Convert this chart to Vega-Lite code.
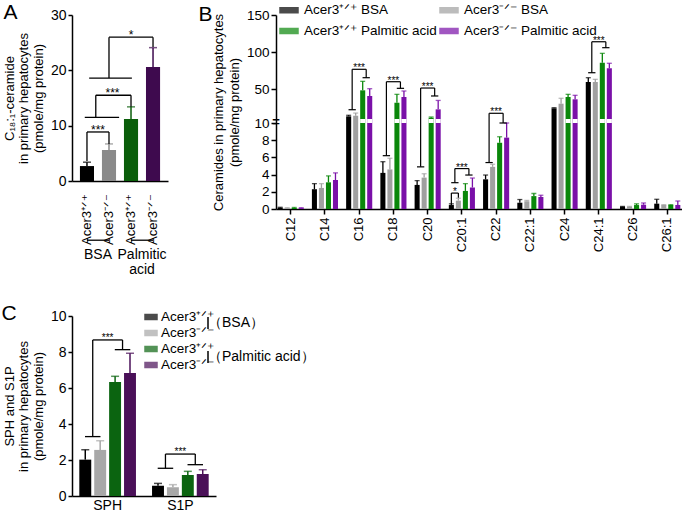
{
"$schema":"https://vega.github.io/schema/vega-lite/v6.json",
"background":"white",
"padding":{"left":1,"top":0,"right":0,"bottom":0},
"config":{
  "font":"Liberation Sans",
  "view":{"stroke":null},
  "axis":{"domainColor":"#000","domainWidth":1.5,"tickColor":"#000","tickWidth":1.5,"tickSize":4,"labelColor":"#000","titleColor":"#000","titleFontWeight":"normal","grid":false,"labelFlush":false,"labelOverlap":false,"labelFont":"Liberation Sans","titleFont":"Liberation Sans","labelPadding":2},
  "legend":{"labelFont":"Liberation Sans","labelColor":"#000"},
  "title":{"font":"Liberation Sans","fontWeight":"normal","fontSize":21,"color":"#000"}
},
"columns":2,
"align":"each",
"bounds":"flush",
"spacing":{"row":107,"column":60},
"resolve":{"scale":{"color":"independent","shape":"independent","x":"independent","y":"independent","xOffset":"independent"},"legend":{"color":"independent","shape":"independent"}},
"concat":[
   {
    "width":96,"height":166,
    "title":{"text":"A","anchor":"start","frame":"bounds","dy":19,"dx":0},
    "layer":[
     {
      "data":{"values":[
        {"treat":"BSA","geno":"+/+","ga":"Acer3+/+ BSA","v":2.7,"hi":3.4,"lab":"Acer3⁺ᐟ⁺"},
        {"treat":"BSA","geno":"-/-","ga":"Acer3-/- BSA","v":5.6,"hi":6.7,"lab":"Acer3⁻ᐟ⁻"},
        {"treat":"Palmitic acid","geno":"+/+","ga":"Acer3+/+ Palmitic acid","v":11.2,"hi":13.4,"lab":"Acer3⁺ᐟ⁺"},
        {"treat":"Palmitic acid","geno":"-/-","ga":"Acer3-/- Palmitic acid","v":20.6,"hi":24.1,"lab":"Acer3⁻ᐟ⁻"}
      ]},
      "layer":[
       {
        "mark":{"type":"bar"},
        "encoding":{
         "x":{"field":"treat","type":"nominal","scale":{"domain":["BSA","Palmitic acid"],"paddingInner":0,"paddingOuter":0.09},
              "axis":{"title":null,"ticks":false,"labelAngle":0,"labelPadding":66,"labelBaseline":"top","labelFontSize":14,"labelLineHeight":15,"labelExpr":"datum.value == 'BSA' ? 'BSA' : ['Palmitic','acid']"}},
         "xOffset":{"field":"geno","type":"nominal","scale":{"domain":["+/+","-/-"],"paddingInner":0.36,"paddingOuter":0.18}},
         "y":{"field":"v","type":"quantitative","scale":{"domain":[0,30],"nice":false,"zero":true},
              "axis":{"values":[0,10,20,30],"tickCount":40,"format":"d","labelOverlap":false,"labelFontSize":14,"titleFontSize":13,"titleLineHeight":14.5,"titlePadding":5,"title":["C₁₈:₁-ceramide","in primary hepatocytes","(pmole/mg protein)"]}},
         "color":{"field":"ga","type":"nominal","scale":{"domain":["Acer3+/+ BSA","Acer3-/- BSA","Acer3+/+ Palmitic acid","Acer3-/- Palmitic acid"],"range":["#000000","#8a8a8a","#0a5e0a","#3e0a4e"]},"legend":null}
        }
       },
       {
        "mark":{"type":"rule","strokeWidth":1.5},
        "encoding":{
         "x":{"field":"treat","type":"nominal"},
         "xOffset":{"field":"geno","type":"nominal"},
         "y":{"field":"v","type":"quantitative"},
         "y2":{"field":"hi"},
         "color":{"field":"ga","type":"nominal","legend":null}
        }
       },
       {
        "mark":{"type":"tick","orient":"horizontal","size":8,"thickness":1.5},
        "encoding":{
         "x":{"field":"treat","type":"nominal"},
         "xOffset":{"field":"geno","type":"nominal"},
         "y":{"field":"hi","type":"quantitative"},
         "color":{"field":"ga","type":"nominal","legend":null}
        }
       },
       {
        "mark":{"type":"text","angle":270,"align":"right","baseline":"middle","dx":-13,"fontSize":13,"color":"#000"},
        "encoding":{
         "x":{"field":"treat","type":"nominal"},
         "xOffset":{"field":"geno","type":"nominal"},
         "y":{"datum":0},
         "text":{"field":"lab"}
        }
       }
      ]
     },
     {
      "data":{"values":[{"treat":"BSA","y":-10.7},{"treat":"Palmitic acid","y":-10.7}]},
      "mark":{"type":"rule","strokeWidth":1.3,"color":"#000"},
      "encoding":{"x":{"field":"treat","type":"nominal","bandPosition":0.25},"x2":{"field":"treat","bandPosition":0.75},"y":{"field":"y","type":"quantitative"}}
     },
     {
      "data":{"values":[
        {"treat":"BSA","geno":"+/+","lo":3.6,"top":8.86},
        {"treat":"BSA","geno":"-/-","lo":6.7,"top":8.86},
        {"treat":"Palmitic acid","geno":"+/+","lo":13.4,"top":15.5},
        {"treat":"BSA","geno":"-/-","lo":18.6,"top":26.0},
        {"treat":"Palmitic acid","geno":"-/-","lo":24.2,"top":26.0}
      ]},
      "mark":{"type":"rule","strokeWidth":1.3,"color":"#000"},
      "encoding":{"x":{"field":"treat","type":"nominal"},"xOffset":{"field":"geno","type":"nominal"},"y":{"field":"lo","type":"quantitative"},"y2":{"field":"top"}}
     },
     {
      "data":{"values":[{"treat":"BSA","lo":11.5,"top":15.5}]},
      "mark":{"type":"rule","strokeWidth":1.3,"color":"#000"},
      "encoding":{"x":{"field":"treat","type":"nominal","bandPosition":0.45},"y":{"field":"lo","type":"quantitative"},"y2":{"field":"top"}}
     },
     {
      "data":{"values":[{"xa":"BSA","xb":"BSA","y":8.86}]},
      "mark":{"type":"rule","strokeWidth":1.3,"color":"#000"},
      "encoding":{"x":{"field":"xa","type":"nominal","bandPosition":0.25},"x2":{"field":"xb","bandPosition":0.75},"y":{"field":"y","type":"quantitative"}}
     },
     {
      "data":{"values":[{"xa":"BSA","xb":"BSA","y":11.5}]},
      "mark":{"type":"rule","strokeWidth":1.3,"color":"#000"},
      "encoding":{"x":{"field":"xa","type":"nominal","bandPosition":0.2},"x2":{"field":"xb","bandPosition":0.98},"y":{"field":"y","type":"quantitative"}}
     },
     {
      "data":{"values":[{"xa":"BSA","xb":"Palmitic acid","y":15.5}]},
      "mark":{"type":"rule","strokeWidth":1.3,"color":"#000"},
      "encoding":{"x":{"field":"xa","type":"nominal","bandPosition":0.45},"x2":{"field":"xb","bandPosition":0.25},"y":{"field":"y","type":"quantitative"}}
     },
     {
      "data":{"values":[{"xa":"BSA","xb":"Palmitic acid","y":18.6}]},
      "mark":{"type":"rule","strokeWidth":1.3,"color":"#000"},
      "encoding":{"x":{"field":"xa","type":"nominal","bandPosition":0.3},"x2":{"field":"xb","bandPosition":0.27},"y":{"field":"y","type":"quantitative"}}
     },
     {
      "data":{"values":[{"xa":"BSA","xb":"Palmitic acid","y":26.0}]},
      "mark":{"type":"rule","strokeWidth":1.3,"color":"#000"},
      "encoding":{"x":{"field":"xa","type":"nominal","bandPosition":0.75},"x2":{"field":"xb","bandPosition":0.75},"y":{"field":"y","type":"quantitative"}}
     },
     {
      "data":{"values":[{"xa":"BSA","y":8.86,"s":"***"}]},
      "mark":{"type":"text","fontSize":12,"baseline":"alphabetic","dy":2,"color":"#000"},
      "encoding":{"x":{"field":"xa","type":"nominal","bandPosition":0.5},"y":{"field":"y","type":"quantitative"},"text":{"field":"s"}}
     },
     {
      "data":{"values":[{"xa":"BSA","y":15.5,"s":"***"}]},
      "mark":{"type":"text","fontSize":12,"baseline":"alphabetic","dy":2,"color":"#000"},
      "encoding":{"x":{"field":"xa","type":"nominal","bandPosition":0.83},"y":{"field":"y","type":"quantitative"},"text":{"field":"s"}}
     },
     {
      "data":{"values":[{"xa":"Palmitic acid","y":26.0,"s":"*"}]},
      "mark":{"type":"text","fontSize":12,"baseline":"alphabetic","dy":2,"color":"#000"},
      "encoding":{"x":{"field":"xa","type":"nominal","bandPosition":0.25},"y":{"field":"y","type":"quantitative"},"text":{"field":"s"}}
     }
    ]
   },
   {
    "width":406,"height":194,
    "title":{"text":"B","anchor":"start","frame":"bounds","dy":29,"dx":-14},
    "layer":[
     {
      "data":{"values":[
        {"cer":"C12","gb":"Acer3⁺ᐟ⁺ BSA","treat":"BSA","v":0.15,"hi":0.2},
        {"cer":"C12","gb":"Acer3⁻ᐟ⁻ BSA","treat":"BSA","v":0.1,"hi":0.15},
        {"cer":"C12","gb":"Acer3⁺ᐟ⁺ Palmitic acid","treat":"PA","v":0.12,"hi":0.18},
        {"cer":"C12","gb":"Acer3⁻ᐟ⁻ Palmitic acid","treat":"PA","v":0.1,"hi":0.15},
        {"cer":"C14","gb":"Acer3⁺ᐟ⁺ BSA","treat":"BSA","v":2.3,"hi":2.95},
        {"cer":"C14","gb":"Acer3⁻ᐟ⁻ BSA","treat":"BSA","v":2.45,"hi":2.95},
        {"cer":"C14","gb":"Acer3⁺ᐟ⁺ Palmitic acid","treat":"PA","v":3.1,"hi":3.85},
        {"cer":"C14","gb":"Acer3⁻ᐟ⁻ Palmitic acid","treat":"PA","v":3.37,"hi":4.2},
        {"cer":"C16","gb":"Acer3⁺ᐟ⁺ BSA","treat":"BSA","v":13.6,"hi":15},
        {"cer":"C16","gb":"Acer3⁻ᐟ⁻ BSA","treat":"BSA","v":14.4,"hi":18},
        {"cer":"C16","gb":"Acer3⁺ᐟ⁺ Palmitic acid","treat":"PA","v":48.6,"hi":60.7},
        {"cer":"C16","gb":"Acer3⁻ᐟ⁻ Palmitic acid","treat":"PA","v":41,"hi":50.8},
        {"cer":"C18","gb":"Acer3⁺ᐟ⁺ BSA","treat":"BSA","v":4.2,"hi":5.5},
        {"cer":"C18","gb":"Acer3⁻ᐟ⁻ BSA","treat":"BSA","v":4.6,"hi":5.9},
        {"cer":"C18","gb":"Acer3⁺ᐟ⁺ Palmitic acid","treat":"PA","v":31.9,"hi":43.2},
        {"cer":"C18","gb":"Acer3⁻ᐟ⁻ Palmitic acid","treat":"PA","v":39.6,"hi":47.7},
        {"cer":"C20","gb":"Acer3⁺ᐟ⁺ BSA","treat":"BSA","v":2.8,"hi":3.3},
        {"cer":"C20","gb":"Acer3⁻ᐟ⁻ BSA","treat":"BSA","v":3.65,"hi":4.1},
        {"cer":"C20","gb":"Acer3⁺ᐟ⁺ Palmitic acid","treat":"PA","v":11.7,"hi":12.7},
        {"cer":"C20","gb":"Acer3⁻ᐟ⁻ Palmitic acid","treat":"PA","v":23,"hi":35},
        {"cer":"C20:1","gb":"Acer3⁺ᐟ⁺ BSA","treat":"BSA","v":0.46,"hi":0.6},
        {"cer":"C20:1","gb":"Acer3⁻ᐟ⁻ BSA","treat":"BSA","v":0.97,"hi":1.25},
        {"cer":"C20:1","gb":"Acer3⁺ᐟ⁺ Palmitic acid","treat":"PA","v":2.1,"hi":2.95},
        {"cer":"C20:1","gb":"Acer3⁻ᐟ⁻ Palmitic acid","treat":"PA","v":2.5,"hi":3.6},
        {"cer":"C22","gb":"Acer3⁺ᐟ⁺ BSA","treat":"BSA","v":3.45,"hi":3.95},
        {"cer":"C22","gb":"Acer3⁻ᐟ⁻ BSA","treat":"BSA","v":4.9,"hi":5.2},
        {"cer":"C22","gb":"Acer3⁺ᐟ⁺ Palmitic acid","treat":"PA","v":7.7,"hi":8.4},
        {"cer":"C22","gb":"Acer3⁻ᐟ⁻ Palmitic acid","treat":"PA","v":8.3,"hi":10.0},
        {"cer":"C22:1","gb":"Acer3⁺ᐟ⁺ BSA","treat":"BSA","v":0.73,"hi":1.1},
        {"cer":"C22:1","gb":"Acer3⁻ᐟ⁻ BSA","treat":"BSA","v":0.9,"hi":1.0},
        {"cer":"C22:1","gb":"Acer3⁺ᐟ⁺ Palmitic acid","treat":"PA","v":1.5,"hi":1.8},
        {"cer":"C22:1","gb":"Acer3⁻ᐟ⁻ Palmitic acid","treat":"PA","v":1.4,"hi":1.6},
        {"cer":"C24","gb":"Acer3⁺ᐟ⁺ BSA","treat":"BSA","v":24.4,"hi":25.2},
        {"cer":"C24","gb":"Acer3⁻ᐟ⁻ BSA","treat":"BSA","v":30.6,"hi":37.9},
        {"cer":"C24","gb":"Acer3⁺ᐟ⁺ Palmitic acid","treat":"PA","v":39.6,"hi":43.2},
        {"cer":"C24","gb":"Acer3⁻ᐟ⁻ Palmitic acid","treat":"PA","v":36.5,"hi":41.9},
        {"cer":"C24:1","gb":"Acer3⁺ᐟ⁺ BSA","treat":"BSA","v":59.8,"hi":65.6},
        {"cer":"C24:1","gb":"Acer3⁻ᐟ⁻ BSA","treat":"BSA","v":59.8,"hi":63.4},
        {"cer":"C24:1","gb":"Acer3⁺ᐟ⁺ Palmitic acid","treat":"PA","v":85.8,"hi":98.4},
        {"cer":"C24:1","gb":"Acer3⁻ᐟ⁻ Palmitic acid","treat":"PA","v":78.2,"hi":85},
        {"cer":"C26","gb":"Acer3⁺ᐟ⁺ BSA","treat":"BSA","v":0.27,"hi":0.3},
        {"cer":"C26","gb":"Acer3⁻ᐟ⁻ BSA","treat":"BSA","v":0.25,"hi":0.3},
        {"cer":"C26","gb":"Acer3⁺ᐟ⁺ Palmitic acid","treat":"PA","v":0.46,"hi":0.6},
        {"cer":"C26","gb":"Acer3⁻ᐟ⁻ Palmitic acid","treat":"PA","v":0.5,"hi":0.7},
        {"cer":"C26:1","gb":"Acer3⁺ᐟ⁺ BSA","treat":"BSA","v":0.62,"hi":1.13},
        {"cer":"C26:1","gb":"Acer3⁻ᐟ⁻ BSA","treat":"BSA","v":0.47,"hi":0.5},
        {"cer":"C26:1","gb":"Acer3⁺ᐟ⁺ Palmitic acid","treat":"PA","v":0.47,"hi":0.5},
        {"cer":"C26:1","gb":"Acer3⁻ᐟ⁻ Palmitic acid","treat":"PA","v":0.47,"hi":0.93}
      ]},
      "layer":[
       {
        "mark":{"type":"bar"},
        "encoding":{
         "x":{"field":"cer","type":"nominal","scale":{"domain":["C12","C14","C16","C18","C20","C20:1","C22","C22:1","C24","C24:1","C26","C26:1"],"paddingInner":0.18,"paddingOuter":0.02},
              "axis":{"title":null,"labelAngle":270,"labelFontSize":13,"tickSize":5,"labelPadding":3}},
         "xOffset":{"field":"gb","type":"nominal","scale":{"domain":["Acer3⁺ᐟ⁺ BSA","Acer3⁻ᐟ⁻ BSA","Acer3⁺ᐟ⁺ Palmitic acid","Acer3⁻ᐟ⁻ Palmitic acid"],"paddingInner":0.28,"paddingOuter":0.14}},
         "y":{"field":"v","type":"quantitative","scale":{"domain":[0,10,10.01,150],"range":[194,108,104,0],"nice":false,"zero":false},
              "axis":{"values":[0,2,4,6,8,10,50,100,150],"tickCount":40,"format":"d","labelOverlap":false,"labelFontSize":13.5,"tickSize":5,"title":["Ceramides in primary hepatocytes","(pmole/mg protein)"],"titleFontSize":13,"titleLineHeight":16,"titlePadding":5}},
         "color":{"field":"gb","type":"nominal","scale":{"domain":["Acer3⁺ᐟ⁺ BSA","Acer3⁻ᐟ⁻ BSA","Acer3⁺ᐟ⁺ Palmitic acid","Acer3⁻ᐟ⁻ Palmitic acid"],"range":["#000000","#a0a0a0","#0a870a","#7a10a8"]},
                  "legend":{"orient":"none","legendX":3,"legendY":-15,"direction":"horizontal","title":null,"columns":2,"symbolType":"M-1,-0.28H1V0.28H-1Z","symbolSize":324,"labelFontSize":13.5,"rowPadding":4,"columnPadding":0,"labelOffset":5,"padding":0}}
        }
       },
       {
        "transform":[{"filter":"datum.treat == 'PA' && datum.v > 10.01"}],
        "mark":{"type":"bar","color":"white"},
        "encoding":{
         "x":{"field":"cer","type":"nominal"},
         "xOffset":{"field":"gb","type":"nominal"},
         "y":{"datum":10},
         "y2":{"datum":10.01}
        }
       },
       {
        "mark":{"type":"rule","strokeWidth":1.3},
        "encoding":{
         "x":{"field":"cer","type":"nominal"},
         "xOffset":{"field":"gb","type":"nominal"},
         "y":{"field":"v","type":"quantitative"},
         "y2":{"field":"hi"},
         "color":{"field":"gb","type":"nominal"}
        }
       },
       {
        "mark":{"type":"tick","orient":"horizontal","size":5,"thickness":1.3},
        "encoding":{
         "x":{"field":"cer","type":"nominal"},
         "xOffset":{"field":"gb","type":"nominal"},
         "y":{"field":"hi","type":"quantitative"},
         "color":{"field":"gb","type":"nominal"}
        }
       }
      ]
     },
     {
      "data":{"values":[{"cer":"C12","brk":10.005,"s":"="}]},
      "mark":{"type":"text","fontSize":13,"fontWeight":"bold","align":"center","baseline":"middle","color":"#000","dy":1},
      "encoding":{"x":{"field":"cer","type":"nominal","bandPosition":-0.025},"y":{"field":"brk","type":"quantitative"},"text":{"field":"s"}}
     },
     {
      "data":{"values":[
        {"cer":"C16","l":22.5,"t":76.9,"r":65.6,"s":"***"},
        {"cer":"C18","l":6.2,"t":60.2,"r":51.3,"s":"***"},
        {"cer":"C20","l":4.9,"t":51.7,"r":41,"s":"***"},
        {"cer":"C20:1","l":3.06,"t":4.7,"r":3.95,"s":"***"},
        {"cer":"C22","l":5.4,"t":17.7,"r":10.0,"s":"***"},
        {"cer":"C24:1","l":72.3,"t":114,"r":106,"s":"***"}
      ]},
      "layer":[
       {"mark":{"type":"rule","strokeWidth":1.2,"color":"#000"},
        "encoding":{"x":{"field":"cer","type":"nominal","bandPosition":0.25},"y":{"field":"l","type":"quantitative"},"y2":{"field":"t"}}},
       {"mark":{"type":"rule","strokeWidth":1.2,"color":"#000"},
        "encoding":{"x":{"field":"cer","type":"nominal","bandPosition":0.75},"y":{"field":"r","type":"quantitative"},"y2":{"field":"t"}}},
       {"mark":{"type":"rule","strokeWidth":1.2,"color":"#000"},
        "encoding":{"x":{"field":"cer","type":"nominal","bandPosition":0.25},"x2":{"field":"cer","bandPosition":0.75},"y":{"field":"t","type":"quantitative"}}},
       {"mark":{"type":"rule","strokeWidth":1.2,"color":"#000"},
        "encoding":{"x":{"field":"cer","type":"nominal","bandPosition":0.12},"x2":{"field":"cer","bandPosition":0.38},"y":{"field":"l","type":"quantitative"}}},
       {"mark":{"type":"rule","strokeWidth":1.2,"color":"#000"},
        "encoding":{"x":{"field":"cer","type":"nominal","bandPosition":0.62},"x2":{"field":"cer","bandPosition":0.88},"y":{"field":"r","type":"quantitative"}}},
       {"mark":{"type":"text","fontSize":10,"baseline":"alphabetic","dy":2,"color":"#000"},
        "encoding":{"x":{"field":"cer","type":"nominal","bandPosition":0.5},"y":{"field":"t","type":"quantitative"},"text":{"field":"s"}}}
      ]
     },
     {
      "data":{"values":[{"cer":"C20:1","l":0.55,"t":1.85,"r":1.3,"s":"*"}]},
      "layer":[
       {"mark":{"type":"rule","strokeWidth":1.2,"color":"#000"},
        "encoding":{"x":{"field":"cer","type":"nominal","bandPosition":0.125},"y":{"field":"l","type":"quantitative"},"y2":{"field":"t"}}},
       {"mark":{"type":"rule","strokeWidth":1.2,"color":"#000"},
        "encoding":{"x":{"field":"cer","type":"nominal","bandPosition":0.375},"y":{"field":"r","type":"quantitative"},"y2":{"field":"t"}}},
       {"mark":{"type":"rule","strokeWidth":1.2,"color":"#000"},
        "encoding":{"x":{"field":"cer","type":"nominal","bandPosition":0.125},"x2":{"field":"cer","bandPosition":0.375},"y":{"field":"t","type":"quantitative"}}},
       {"mark":{"type":"text","fontSize":10,"baseline":"alphabetic","dy":2,"color":"#000"},
        "encoding":{"x":{"field":"cer","type":"nominal","bandPosition":0.25},"y":{"field":"t","type":"quantitative"},"text":{"field":"s"}}}
      ]
     }
    ]
   },
 {
  "width":144,"height":180,
  "title":{"text":"C","anchor":"start","frame":"bounds","dy":19,"dx":-2},
  "layer":[
   {
    "data":{"values":[
      {"sp":"SPH","gc":"Acer3⁺ᐟ⁺ BSA","v":2.02,"hi":2.57},
      {"sp":"SPH","gc":"Acer3⁻ᐟ⁻ BSA","v":2.56,"hi":3.07},
      {"sp":"SPH","gc":"Acer3⁺ᐟ⁺ Palmitic acid","v":6.33,"hi":6.65},
      {"sp":"SPH","gc":"Acer3⁻ᐟ⁻ Palmitic acid","v":6.83,"hi":7.93},
      {"sp":"S1P","gc":"Acer3⁺ᐟ⁺ BSA","v":0.57,"hi":0.7},
      {"sp":"S1P","gc":"Acer3⁻ᐟ⁻ BSA","v":0.48,"hi":0.63},
      {"sp":"S1P","gc":"Acer3⁺ᐟ⁺ Palmitic acid","v":1.17,"hi":1.37},
      {"sp":"S1P","gc":"Acer3⁻ᐟ⁻ Palmitic acid","v":1.22,"hi":1.46}
    ]},
    "layer":[
     {
      "mark":{"type":"bar"},
      "encoding":{
       "x":{"field":"sp","type":"nominal","scale":{"domain":["SPH","S1P"],"paddingInner":0.18,"paddingOuter":0.08},
            "axis":{"title":null,"labelAngle":0,"labelFontSize":14,"ticks":false,"labelPadding":2}},
       "xOffset":{"field":"gc","type":"nominal","scale":{"domain":["Acer3⁺ᐟ⁺ BSA","Acer3⁻ᐟ⁻ BSA","Acer3⁺ᐟ⁺ Palmitic acid","Acer3⁻ᐟ⁻ Palmitic acid"],"paddingInner":0.2,"paddingOuter":0.1}},
       "y":{"field":"v","type":"quantitative","scale":{"domain":[0,10],"nice":false},
            "axis":{"values":[0,2,4,6,8,10],"tickCount":40,"format":"d","labelOverlap":false,"labelFontSize":14,"titleFontSize":13,"titleLineHeight":14.5,"titlePadding":5,"title":["SPH and S1P","in primary hepatocytes","(pmole/mg protein)"]}},
       "color":{"field":"gc","type":"nominal","scale":{"domain":["Acer3⁺ᐟ⁺ BSA","Acer3⁻ᐟ⁻ BSA","Acer3⁺ᐟ⁺ Palmitic acid","Acer3⁻ᐟ⁻ Palmitic acid"],"range":["#000000","#a8a8a8","#0b6410","#4a1058"]},
                "legend":{"orient":"none","legendX":72,"legendY":-6,"title":null,"symbolType":"M-1,-0.4H1V0.4H-1Z","symbolSize":144,"labelFontSize":13.5,"labelExpr":"split(datum.label,' ')[0]","rowPadding":2,"labelOffset":3,"padding":0}}
      }
     },
     {
      "mark":{"type":"rule","strokeWidth":1.5},
      "encoding":{
       "x":{"field":"sp","type":"nominal"},
       "xOffset":{"field":"gc","type":"nominal"},
       "y":{"field":"v","type":"quantitative"},
       "y2":{"field":"hi"},
       "color":{"field":"gc","type":"nominal"}
      }
     },
     {
      "mark":{"type":"tick","orient":"horizontal","size":8,"thickness":1.5},
      "encoding":{
       "x":{"field":"sp","type":"nominal"},
       "xOffset":{"field":"gc","type":"nominal"},
       "y":{"field":"hi","type":"quantitative"},
       "color":{"field":"gc","type":"nominal"}
      }
     }
    ]
   },
   {
    "data":{"values":[{"tr":"BSA"},{"tr":"Palmitic acid"}]},
    "mark":{"type":"point","opacity":0,"filled":false,"color":"#000","strokeWidth":1.5},
    "encoding":{
     "shape":{"field":"tr","type":"nominal","scale":{"domain":["BSA","Palmitic acid"],"range":["M0,-1V1","M0,-1V1"]},
              "legend":{"orient":"none","legendX":129,"legendY":0,"title":null,"symbolSize":144,"symbolStrokeColor":"#000","symbolFillColor":"transparent","symbolStrokeWidth":1.5,"symbolOpacity":1,"labelFontSize":14,"labelExpr":"'（' + datum.label + '）'","rowPadding":16,"labelOffset":-7,"padding":0}}
    }
   },
   {
    "data":{"values":[
      {"sp":"SPH","l":3.3,"t":8.67,"r":8.13,"s":"***"},
      {"sp":"S1P","l":1.54,"t":2.33,"r":1.74,"s":"***"}
    ]},
    "layer":[
     {"mark":{"type":"rule","strokeWidth":1.3,"color":"#000"},
      "encoding":{"x":{"field":"sp","type":"nominal","bandPosition":0.25},"y":{"field":"l","type":"quantitative"},"y2":{"field":"t"}}},
     {"mark":{"type":"rule","strokeWidth":1.3,"color":"#000"},
      "encoding":{"x":{"field":"sp","type":"nominal","bandPosition":0.75},"y":{"field":"r","type":"quantitative"},"y2":{"field":"t"}}},
     {"mark":{"type":"rule","strokeWidth":1.3,"color":"#000"},
      "encoding":{"x":{"field":"sp","type":"nominal","bandPosition":0.25},"x2":{"field":"sp","bandPosition":0.75},"y":{"field":"t","type":"quantitative"}}},
     {"mark":{"type":"rule","strokeWidth":1.3,"color":"#000"},
      "encoding":{"x":{"field":"sp","type":"nominal","bandPosition":0.12},"x2":{"field":"sp","bandPosition":0.38},"y":{"field":"l","type":"quantitative"}}},
     {"mark":{"type":"rule","strokeWidth":1.3,"color":"#000"},
      "encoding":{"x":{"field":"sp","type":"nominal","bandPosition":0.62},"x2":{"field":"sp","bandPosition":0.88},"y":{"field":"r","type":"quantitative"}}},
     {"mark":{"type":"text","fontSize":10,"baseline":"alphabetic","dy":1,"color":"#000"},
      "encoding":{"x":{"field":"sp","type":"nominal","bandPosition":0.5},"y":{"field":"t","type":"quantitative"},"text":{"field":"s"}}}
    ]
   }
  ]
 }
]
}
